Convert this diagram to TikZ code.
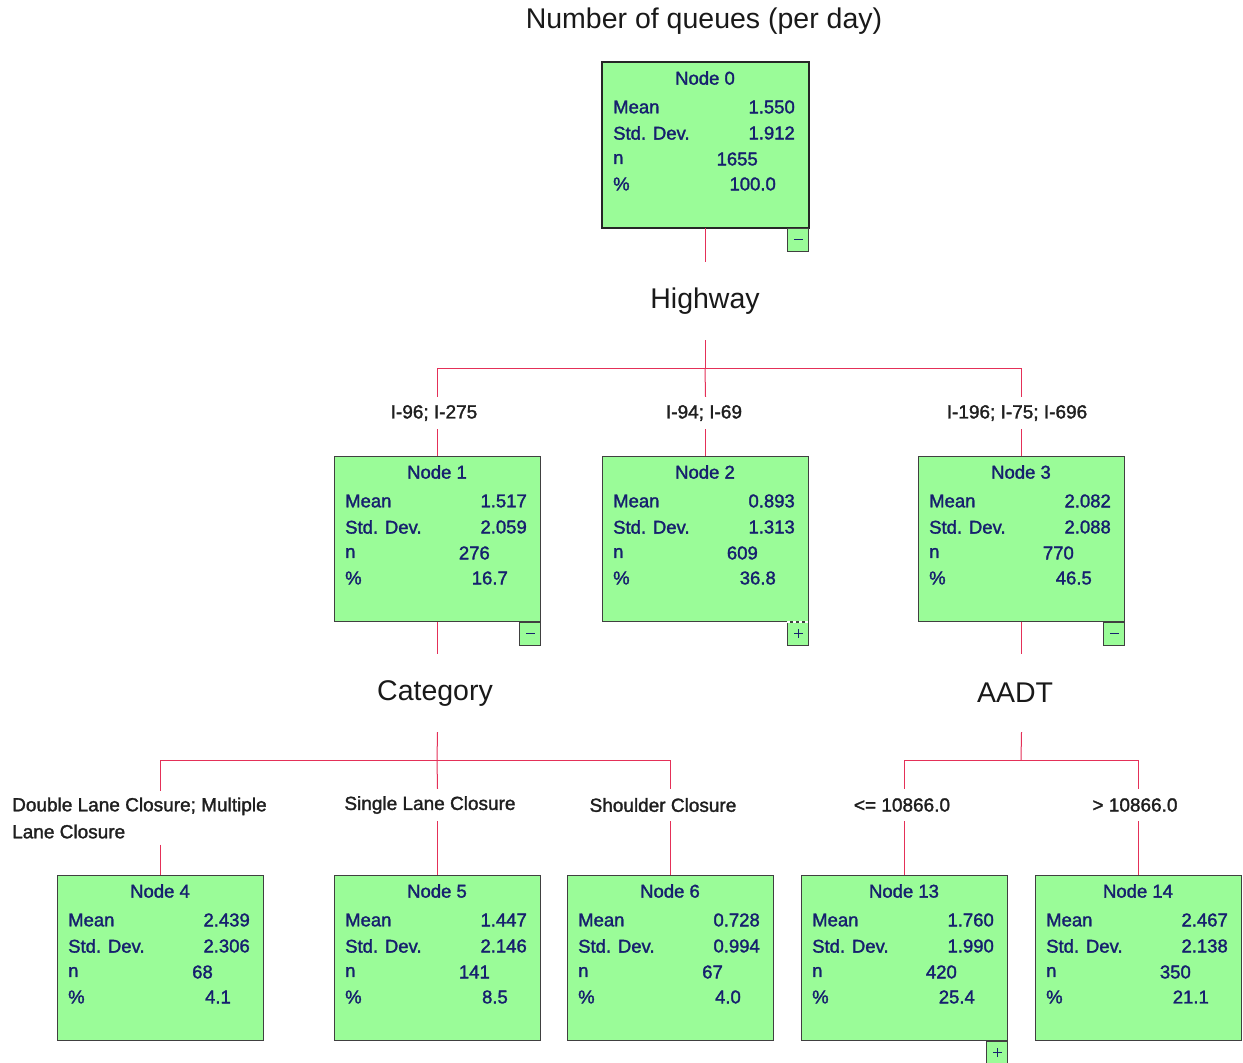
\documentclass[tikz,border=0pt]{standalone}
\usepackage{fontspec}
\setmainfont{Liberation Sans}
\newfontfamily\heavyfont[FakeBold=1.6]{Liberation Sans}
\definecolor{boxgreen}{RGB}{154,252,152}
\definecolor{navy}{RGB}{22,32,110}
\definecolor{linkred}{RGB}{228,48,88}
\newcommand\cartbox[8]{%
  \node[box] (#1) at (#2,#3) {};
  \node[btitle] (#1-t) at ({#2+103},{#3+16}) {#4};
  \node[blab] (#1-ml) at ({#2+11},{#3+45}) {Mean};
  \node[bval] (#1-mv) at ({#2+193},{#3+45}) {#5};
  \node[blab] (#1-sl) at ({#2+11},{#3+71}) {Std. Dev.};
  \node[bval] (#1-sv) at ({#2+193},{#3+71}) {#6};
  \node[blab] (#1-nl) at ({#2+11},{#3+97}) {n};
  \node[bval] (#1-nv) at ({#2+156},{#3+97}) {#7};
  \node[blab] (#1-pl) at ({#2+11},{#3+122}) {\%};
  \node[bval] (#1-pv) at ({#2+174},{#3+122}) {#8};
}
\newcommand\signminus[1]{%
  \node[signbox] (#1-sg) at (#1.south east) {};
  \draw[navy, line width=1pt] ([xshift=-15pt,yshift=-11.5pt]#1.south east) -- ([xshift=-6pt,yshift=-11.5pt]#1.south east);
}
\newcommand\signplus[1]{%
  \node[signbox] (#1-sg) at (#1.south east) {};
  \draw[navy, line width=1pt] ([xshift=-15pt,yshift=-11.5pt]#1.south east) -- ([xshift=-6pt,yshift=-11.5pt]#1.south east);
  \draw[navy, line width=1pt] ([xshift=-10.5pt,yshift=-7pt]#1.south east) -- ([xshift=-10.5pt,yshift=-16pt]#1.south east);
}
\begin{document}
\begin{tikzpicture}[x=1pt,y=-1pt,
  box/.style={draw=black!75, line width=1pt, fill=boxgreen, minimum width=206pt, minimum height=165pt, inner sep=0pt, anchor=north west},
  btitle/.style={text=navy, font=\heavyfont\fontsize{18.5}{20}\selectfont, inner sep=0pt},
  blab/.style={text=navy, font=\heavyfont\fontsize{18.5}{20}\selectfont, inner sep=0pt, anchor=west},
  bval/.style={text=navy, font=\heavyfont\fontsize{18.5}{20}\selectfont, inner sep=0pt, anchor=east},
  signbox/.style={draw=black!75, line width=1pt, fill=boxgreen, minimum width=21pt, minimum height=23pt, inner sep=0pt, anchor=north east},
  link/.style={draw=linkred, line width=1pt},
  split/.style={font=\fontsize{28.5}{30}\selectfont, text=black!90, minimum height=78pt, inner sep=0pt},
  elab/.style={font=\heavyfont\fontsize{19}{20}\selectfont, text=black!88, minimum height=32pt, inner sep=0pt},
]
\useasboundingbox (0,0) rectangle (1243,1063);

% title
\node[font=\fontsize{28.5}{30}\selectfont, text=black!90] (title) at (704,21) {Number of queues (per day)};

% boxes
\cartbox{n0}{602}{62}{Node 0}{1.550}{1.912}{1655}{100.0}
\draw[black!85, line width=2.2pt] (n0.north west) rectangle (n0.south east);
\signminus{n0}

\cartbox{n1}{334}{456}{Node 1}{1.517}{2.059}{276}{16.7}
\signminus{n1}
\cartbox{n2}{602}{456}{Node 2}{0.893}{1.313}{609}{36.8}
\signplus{n2}
\draw[white, line width=1.2pt, dash pattern=on 3pt off 3pt] (n2-sg.north west) -- (n2-sg.north east);
\cartbox{n3}{918}{456}{Node 3}{2.082}{2.088}{770}{46.5}
\signminus{n3}

\cartbox{n4}{57}{875}{Node 4}{2.439}{2.306}{68}{4.1}
\cartbox{n5}{334}{875}{Node 5}{1.447}{2.146}{141}{8.5}
\cartbox{n6}{567}{875}{Node 6}{0.728}{0.994}{67}{4.0}
\cartbox{n13}{801}{875}{Node 13}{1.760}{1.990}{420}{25.4}
\signplus{n13}
\cartbox{n14}{1035}{875}{Node 14}{2.467}{2.138}{350}{21.1}

% split variable labels
\node[split] (s0) at (705,301) {Highway};
\node[split] (s1) at (435,693) {Category};
\node[split] (s3) at (1015,693) {AADT};

% bars
\coordinate (b0) at (705,368);
\coordinate (b1) at (437,760);
\coordinate (b3) at (1021,760);

% edge labels
\node[elab] (e1) at (434,413) {I-96; I-275};
\node[elab] (e2) at (704,413) {I-94; I-69};
\node[elab] (e3) at (1017,413) {I-196; I-75; I-696};
\node[font=\heavyfont\fontsize{19}{27}\selectfont, text=black!88, align=left, anchor=west, inner xsep=0pt, inner ysep=6pt] (e4) at (12,818) {Double Lane Closure; Multiple\\Lane Closure};
\node[elab] (e5) at (430,805) {Single Lane Closure};
\node[elab] (e6) at (663,805) {Shoulder Closure};
\node[elab] (e13) at (902,805) {<= 10866.0};
\node[elab] (e14) at (1135,805) {> 10866.0};

% connectors level 0 -> 1
\draw[link] (n0.south) -- (n0.south |- s0.north);
\draw[link] (s0.south) -- (b0);
\draw[link] (n1.north |- b0) -- (n3.north |- b0);
\draw[link] (n1.north |- b0) -- (n1.north |- e1.north);
\draw[link] (n1.north |- e1.south) -- (n1.north);
\draw[link] (b0) -- (n2.north |- e2.north);
\draw[link] (n2.north |- e2.south) -- (n2.north);
\draw[link] (n3.north |- b0) -- (n3.north |- e3.north);
\draw[link] (n3.north |- e3.south) -- (n3.north);

% connectors level 1 -> 2 (Category)
\draw[link] (n1.south) -- (n1.south |- s1.north);
\draw[link] (n1.south |- s1.south) -- (b1);
\draw[link] (n4.north |- b1) -- (n6.north |- b1);
\draw[link] (n4.north |- b1) -- (n4.north |- e4.north);
\draw[link] (n4.north |- e4.south) -- (n4.north);
\draw[link] (b1) -- (n5.north |- e5.north);
\draw[link] (n5.north |- e5.south) -- (n5.north);
\draw[link] (n6.north |- b1) -- (n6.north |- e6.north);
\draw[link] (n6.north |- e6.south) -- (n6.north);

% connectors level 1 -> 2 (AADT)
\draw[link] (n3.south) -- (n3.south |- s3.north);
\draw[link] (n3.south |- s3.south) -- (b3);
\draw[link] (n13.north |- b3) -- (n14.north |- b3);
\draw[link] (n13.north |- b3) -- (n13.north |- e13.north);
\draw[link] (n13.north |- e13.south) -- (n13.north);
\draw[link] (n14.north |- b3) -- (n14.north |- e14.north);
\draw[link] (n14.north |- e14.south) -- (n14.north);
\end{tikzpicture}
\end{document}
